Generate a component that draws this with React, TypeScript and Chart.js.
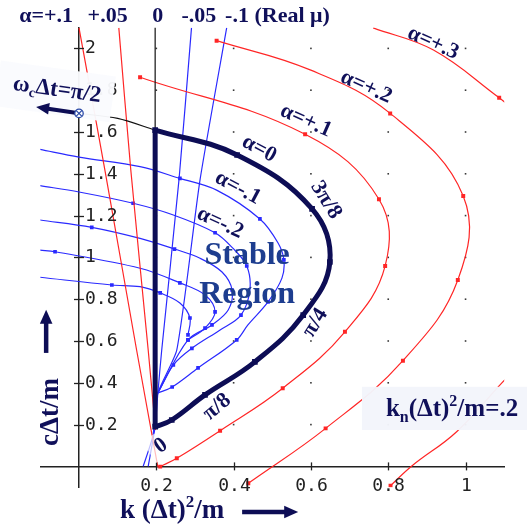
import React, { useEffect, useRef } from 'react';
import { Chart, registerables } from 'chart.js';

Chart.register(...registerables);

// ---- axis ticks ----
const xTickValues = [0.2, 0.4, 0.6, 0.8, 1];
const xTickLabels = ['0.2', '0.4', '0.6', '0.8', '1'];
const yTickValues = [0.2, 0.4, 0.6, 0.8, 1, 1.2, 1.4, 1.6, 1.8, 2];
const yTickLabels = ['0.2', '0.4', '0.6', '0.8', '1', '1.2', '1.4', '1.6', '1.8', '2'];

// ---- stability boundary (α = 0), ωcΔt = 0 … π/2 in steps of π/16 ----
const boundaryK = [0.197, 0.240, 0.326, 0.455, 0.580, 0.649, 0.603, 0.409, 0.197];
const boundaryC = [0.190, 0.222, 0.342, 0.500, 0.724, 0.978, 1.232, 1.490, 1.609];
// K = kn edge of the region
const edgeK = [0.197, 0.197];
const edgeC = [0.190, 1.609];
// α = 0 continued past the region
const zeroUpK = [0.197, 0.197];
const zeroUpC = [1.609, 2.1];
const zeroLeftK = [0.197, 0.1, 0.0];
const zeroLeftC = [1.609, 1.665, 1.689];

// ---- growing contours (α > 0) ----
const alphaP1K = [0.158, 0.585, 0.776, 0.792, 0.688, 0.527, 0.365, 0.253, 0.210];
const alphaP1C = [1.862, 1.589, 1.278, 0.959, 0.644, 0.374, 0.171, 0.039, -0.001];
const alphaP2K = [0.356, 0.598, 0.805, 0.994, 0.980, 0.838, 0.638, 0.438];
const alphaP2C = [2.037, 1.897, 1.689, 1.294, 0.892, 0.506, 0.182, -0.081];
const alphaP2Mark = [1, 0, 1, 1, 1, 1, 1, 1];
const alphaP3TopK = [0.761, 0.917, 1.087, 1.11];
const alphaP3TopC = [2.098, 1.992, 1.764, 1.73];
const alphaP3TopMark = [0, 0, 1, 0];
const alphaP3LowK = [1.11, 1.094, 0.977, 0.861, 0.806];
const alphaP3LowC = [0.43, 0.40, 0.166, 0.002, -0.092];
const alphaP3LowMark = [0, 0, 0, 0, 1];

// ---- decaying contours (α < 0) ----
const alphaM1K = [-0.101, 0.0, 0.158, 0.261, 0.356, 0.468, 0.515, 0.530, 0.525, 0.489, 0.437, 0.408, 0.308, 0.241, 0.204];
const alphaM1C = [1.517, 1.480, 1.434, 1.378, 1.322, 1.184, 1.069, 0.988, 0.901, 0.787, 0.677, 0.605, 0.471, 0.380, 0.351];
const alphaM1Mark = [0, 0, 0, 1, 0, 1, 0, 1, 0, 1, 0, 1, 1, 1, 0];
const alphaM2K = [-0.101, 0.0, 0.140, 0.244, 0.352, 0.398, 0.434, 0.442, 0.419, 0.365, 0.292, 0.244, 0.204];
const alphaM2C = [1.343, 1.313, 1.259, 1.203, 1.118, 1.044, 0.959, 0.844, 0.724, 0.653, 0.565, 0.485, 0.351];
const alphaM2Mark = [0, 0, 1, 0, 1, 0, 1, 0, 1, 0, 1, 1, 0];
const alphaM3K = [-0.101, 0.033, 0.158, 0.247, 0.313, 0.370, 0.396, 0.386, 0.344, 0.282, 0.204];
const alphaM3C = [1.179, 1.144, 1.091, 1.040, 0.996, 0.930, 0.844, 0.748, 0.677, 0.605, 0.351];
const alphaM3Mark = [0, 1, 0, 1, 0, 0, 1, 0, 1, 1, 0];
const alphaM4K = [-0.101, -0.062, 0.158, 0.261, 0.326, 0.352, 0.326, 0.282];
const alphaM4C = [1.035, 1.027, 0.948, 0.878, 0.820, 0.739, 0.662, 0.605];
const alphaM4Mark = [0, 1, 0, 1, 0, 1, 1, 1];
const alphaM5K = [-0.101, 0.085, 0.158, 0.210, 0.261, 0.287, 0.282];
const alphaM5C = [0.905, 0.868, 0.860, 0.830, 0.782, 0.710, 0.629];
const alphaM5Mark = [0, 1, 0, 1, 0, 1, 1];

// ---- constant real μ lines ----
const muP10K = [0.0, 0.067, 0.149, 0.204];
const muP10C = [2.098, 1.418, 0.557, -0.003];
const muP05K = [0.103, 0.134, 0.179, 0.198];
const muP05C = [2.098, 1.418, 0.557, 0.174];
const muM05K = [0.291, 0.259, 0.214, 0.204, 0.197, 0.179];
const muM05C = [2.098, 1.378, 0.557, 0.351, 0.190, 0.0];
const muM10K = [0.382, 0.313, 0.253, 0.204, 0.191, 0.166];
const muM10C = [2.098, 1.370, 0.557, 0.351, 0.145, 0.0];

const NAVY = '#0d0d55';
const RED = '#ff2626';
const BLUE = '#2a2aff';
const INK = '#10105a';
const STABLE_INK = '#1d3d8f';

const pts = (k: number[], c: number[]) => k.map((x, i) => ({ x, y: c[i] }));

function curve(k: number[], c: number[], color: string, width: number, tension: number, mark: number[] | null, markR: number) {
  return {
    data: pts(k, c),
    showLine: true,
    borderColor: color,
    backgroundColor: color,
    borderWidth: width,
    tension,
    pointStyle: 'rect',
    pointRadius: mark ? mark.map((m) => (m ? markR : 0)) : markR,
    pointBorderWidth: 0,
    clip: 0,
  };
}

const allMarks = (n: number) => new Array(n).fill(1);

const datasets = [
  curve(boundaryK, boundaryC, NAVY, 5, 0.4, allMarks(boundaryK.length), 4),
  curve(edgeK, edgeC, NAVY, 5, 0, [0, 0], 0),
  curve(zeroUpK, zeroUpC, '#111', 1.2, 0, [0, 0], 0),
  curve(zeroLeftK, zeroLeftC, '#111', 1.2, 0.3, [0, 0, 0], 0),
  curve(alphaP1K, alphaP1C, RED, 1.2, 0.4, allMarks(alphaP1K.length), 2.8),
  curve(alphaP2K, alphaP2C, RED, 1.2, 0.4, alphaP2Mark, 2.8),
  curve(alphaP3TopK, alphaP3TopC, RED, 1.2, 0.4, alphaP3TopMark, 2.8),
  curve(alphaP3LowK, alphaP3LowC, RED, 1.2, 0.4, alphaP3LowMark, 2.8),
  curve(muP10K, muP10C, RED, 1.2, 0.3, [0, 0, 0, 0], 0),
  curve(muP05K, muP05C, RED, 1.2, 0.3, [0, 0, 0, 0], 0),
  curve(alphaM1K, alphaM1C, BLUE, 1.2, 0.35, alphaM1Mark, 2.6),
  curve(alphaM2K, alphaM2C, BLUE, 1.2, 0.35, alphaM2Mark, 2.6),
  curve(alphaM3K, alphaM3C, BLUE, 1.2, 0.35, alphaM3Mark, 2.6),
  curve(alphaM4K, alphaM4C, BLUE, 1.2, 0.35, alphaM4Mark, 2.6),
  curve(alphaM5K, alphaM5C, BLUE, 1.2, 0.35, alphaM5Mark, 2.6),
  curve(muM05K, muM05C, BLUE, 1.2, 0.2, [0, 0, 0, 0, 0, 0], 0),
  curve(muM10K, muM10C, BLUE, 1.2, 0.2, [0, 0, 0, 0, 0, 0], 0),
];

// ---- annotation text, anchored in (K, C) coordinates ----
type Part = [string, number]; // 0 normal, 1 subscript, 2 superscript
interface Note { parts: Part[]; k: number; c: number; size: number; angle: number; color: string; align?: 'left' | 'center' }

const SERIF = '"Liberation Serif", "Times New Roman", serif';

const notes: Note[] = [
  { parts: [['α=+.1', 0]], k: -0.085, c: 2.155, size: 22, angle: 0, color: INK },
  { parts: [['+.05', 0]], k: 0.074, c: 2.155, size: 22, angle: 0, color: INK },
  { parts: [['0', 0]], k: 0.204, c: 2.155, size: 22, angle: 0, color: INK },
  { parts: [['-.05', 0]], k: 0.31, c: 2.155, size: 22, angle: 0, color: INK },
  { parts: [['-.1 (Real μ)', 0]], k: 0.378, c: 2.155, size: 22, angle: 0, color: INK, align: 'left' },
  { parts: [['α=+.3', 0]], k: 0.916, c: 2.026, size: 22, angle: 24, color: INK },
  { parts: [['α=+.2', 0]], k: 0.743, c: 1.815, size: 22, angle: 24, color: INK },
  { parts: [['α=+.1', 0]], k: 0.587, c: 1.654, size: 22, angle: 24, color: INK },
  { parts: [['α=0', 0]], k: 0.466, c: 1.519, size: 22, angle: 28, color: INK },
  { parts: [['α=-.1', 0]], k: 0.411, c: 1.332, size: 22, angle: 28, color: INK },
  { parts: [['α=-.2', 0]], k: 0.365, c: 1.165, size: 22, angle: 25, color: INK },
  { parts: [['3π/8', 0]], k: 0.639, c: 1.275, size: 22, angle: 58, color: INK },
  { parts: [['π/4', 0]], k: 0.611, c: 0.687, size: 22, angle: -58, color: INK },
  { parts: [['π/8', 0]], k: 0.357, c: 0.284, size: 22, angle: -40, color: INK },
  { parts: [['0', 0]], k: 0.212, c: 0.098, size: 22, angle: -35, color: INK },
  { parts: [['Stable', 0]], k: 0.435, c: 1.007, size: 32, angle: 0, color: STABLE_INK },
  { parts: [['Region', 0]], k: 0.435, c: 0.82, size: 32, angle: 0, color: STABLE_INK },
  { parts: [['ω', 0], ['c', 1], ['Δt=π/2', 0]], k: -0.057, c: 1.801, size: 23, angle: 8, color: INK },
  { parts: [['k', 0], ['n', 1], ['(Δt)', 0], ['2', 2], ['/m=.2', 0]], k: 0.965, c: 0.27, size: 25, angle: 0, color: INK },
  { parts: [['cΔt/m', 0]], k: -0.072, c: 0.26, size: 27, angle: -90, color: INK },
  { parts: [['k (Δt)', 0], ['2', 2], ['/m', 0]], k: 0.241, c: -0.213, size: 27, angle: 0, color: INK },
];

function drawRich(ctx: CanvasRenderingContext2D, n: Note, x: number, y: number) {
  ctx.save();
  ctx.translate(x, y);
  ctx.rotate((n.angle * Math.PI) / 180);
  ctx.textBaseline = 'middle';
  ctx.textAlign = 'left';
  ctx.fillStyle = n.color;
  const fontFor = (kind: number) => `bold ${kind ? Math.round(n.size * 0.62) : n.size}px ${SERIF}`;
  const widths = n.parts.map(([t, kind]) => {
    ctx.font = fontFor(kind);
    return ctx.measureText(t).width;
  });
  const total = widths.reduce((a, b) => a + b, 0);
  let cx = n.align === 'left' ? 0 : -total / 2;
  n.parts.forEach(([t, kind], i) => {
    ctx.font = fontFor(kind);
    const dy = kind === 1 ? n.size * 0.3 : kind === 2 ? -n.size * 0.32 : 0;
    ctx.fillText(t, cx, dy);
    cx += widths[i];
  });
  ctx.restore();
}

function arrow(ctx: CanvasRenderingContext2D, x1: number, y1: number, x2: number, y2: number, w: number, head: number) {
  const a = Math.atan2(y2 - y1, x2 - x1);
  ctx.save();
  ctx.strokeStyle = NAVY;
  ctx.fillStyle = NAVY;
  ctx.lineWidth = w;
  ctx.beginPath();
  ctx.moveTo(x1, y1);
  ctx.lineTo(x2 - Math.cos(a) * head * 0.8, y2 - Math.sin(a) * head * 0.8);
  ctx.stroke();
  ctx.translate(x2, y2);
  ctx.rotate(a);
  ctx.beginPath();
  ctx.moveTo(0, 0);
  ctx.lineTo(-head, -head * 0.45);
  ctx.lineTo(-head, head * 0.45);
  ctx.closePath();
  ctx.fill();
  ctx.restore();
}

const overlay = {
  id: 'overlay',
  beforeDatasetsDraw(chart: any) {
    const { ctx, scales } = chart;
    const sx = scales.x;
    const sy = scales.y;
    ctx.save();
    ctx.fillStyle = '#3a3a3a';
    xTickValues.forEach((xv) => {
      yTickValues.forEach((yv) => {
        ctx.fillRect(sx.getPixelForValue(xv) - 0.8, sy.getPixelForValue(yv) - 0.8, 1.6, 1.6);
      });
    });
    ctx.restore();
  },
  afterDraw(chart: any) {
    const { ctx, scales } = chart;
    const sx = scales.x;
    const sy = scales.y;
    const X = (v: number) => sx.getPixelForValue(v);
    const Y = (v: number) => sy.getPixelForValue(v);
    const x0 = X(0);
    const y0 = Y(0);

    // cross-shaped ticks and their labels
    ctx.save();
    ctx.strokeStyle = '#222';
    ctx.lineWidth = 1.3;
    ctx.fillStyle = '#222';
    ctx.font = '18px "DejaVu Sans Mono", monospace';
    ctx.textBaseline = 'middle';
    yTickValues.forEach((v, i) => {
      const py = Math.round(Y(v)) + 0.5;
      ctx.beginPath();
      ctx.moveTo(x0 - 5, py);
      ctx.lineTo(x0 + 5, py);
      ctx.stroke();
      ctx.textAlign = 'left';
      ctx.fillText(yTickLabels[i], x0 + 6, py);
    });
    xTickValues.forEach((v, i) => {
      const px = Math.round(X(v)) + 0.5;
      ctx.beginPath();
      ctx.moveTo(px, y0 - 4);
      ctx.lineTo(px, y0 + 4);
      ctx.stroke();
      ctx.textAlign = 'center';
      ctx.fillText(xTickLabels[i], px, y0 + 20);
    });
    ctx.restore();

    // light boxes behind some labels
    ctx.save();
    ctx.translate(X(-0.062), Y(1.79));
    ctx.rotate((8 * Math.PI) / 180);
    ctx.fillStyle = 'rgba(250,251,254,0.96)';
    ctx.fillRect(-58, -24, 116, 46);
    ctx.restore();
    ctx.save();
    ctx.fillStyle = 'rgba(243,245,251,0.97)';
    ctx.fillRect(X(0.732), Y(0.381), 170, Y(0.174) - Y(0.381));
    ctx.restore();
    ctx.save();
    ctx.translate(X(0.21), Y(0.1));
    ctx.rotate((-30 * Math.PI) / 180);
    ctx.fillStyle = 'rgba(255,255,255,0.7)';
    ctx.fillRect(-13, -13, 26, 26);
    ctx.restore();

    notes.forEach((n) => drawRich(ctx, n, X(n.k), Y(n.c)));

    // ωcΔt = π/2 marker with its arrow
    const mx = X(0);
    const my = Y(1.689);
    arrow(ctx, mx - 2, my - 0.5, X(-0.111), Y(1.72), 4, 13);
    ctx.save();
    ctx.fillStyle = '#fff';
    ctx.strokeStyle = '#2b4aa8';
    ctx.lineWidth = 1.3;
    ctx.beginPath();
    ctx.arc(mx, my, 4.2, 0, Math.PI * 2);
    ctx.fill();
    ctx.stroke();
    ctx.beginPath();
    ctx.moveTo(mx - 3, my - 3);
    ctx.lineTo(mx + 3, my + 3);
    ctx.moveTo(mx + 3, my - 3);
    ctx.lineTo(mx - 3, my + 3);
    ctx.stroke();
    ctx.restore();

    // axis direction arrows
    arrow(ctx, X(-0.085), Y(0.543), X(-0.085), Y(0.75), 4.5, 14);
    arrow(ctx, X(0.422), Y(-0.218), X(0.567), Y(-0.218), 4.5, 14);
  },
};

export default function App() {
  const ref = useRef<HTMLCanvasElement>(null);
  useEffect(() => {
    const chart = new Chart(ref.current as HTMLCanvasElement, {
      type: 'scatter',
      data: { datasets: datasets as any },
      options: {
        animation: false,
        responsive: false,
        events: [],
        layout: { padding: { left: 40.35, right: 22.8, top: 27.5, bottom: 39.7 }, autoPadding: false } as any,
        plugins: { legend: { display: false }, tooltip: { enabled: false }, title: { display: false } },
        scales: {
          x: {
            type: 'linear',
            min: -0.1,
            max: 1.1,
            position: { y: 0 } as any,
            grid: { display: false },
            border: { display: true, color: '#222', width: 1.5 },
            ticks: { display: false },
            afterBuildTicks: (s: any) => {
              s.ticks = xTickValues.map((value) => ({ value }));
            },
          },
          y: {
            type: 'linear',
            min: -0.1,
            max: 2.1,
            position: { x: 0 } as any,
            grid: { display: false },
            border: { display: true, color: '#222', width: 1.5 },
            ticks: { display: false },
            afterBuildTicks: (s: any) => {
              s.ticks = yTickValues.map((value) => ({ value }));
            },
          },
        },
      },
      plugins: [overlay],
    });
    return () => chart.destroy();
  }, []);
  return (
    <div style={{ position: 'fixed', left: 0, top: 0, width: 527, height: 527, background: '#fff' }}>
      <canvas ref={ref} width={527} height={527} style={{ display: 'block' }} />
    </div>
  );
}
